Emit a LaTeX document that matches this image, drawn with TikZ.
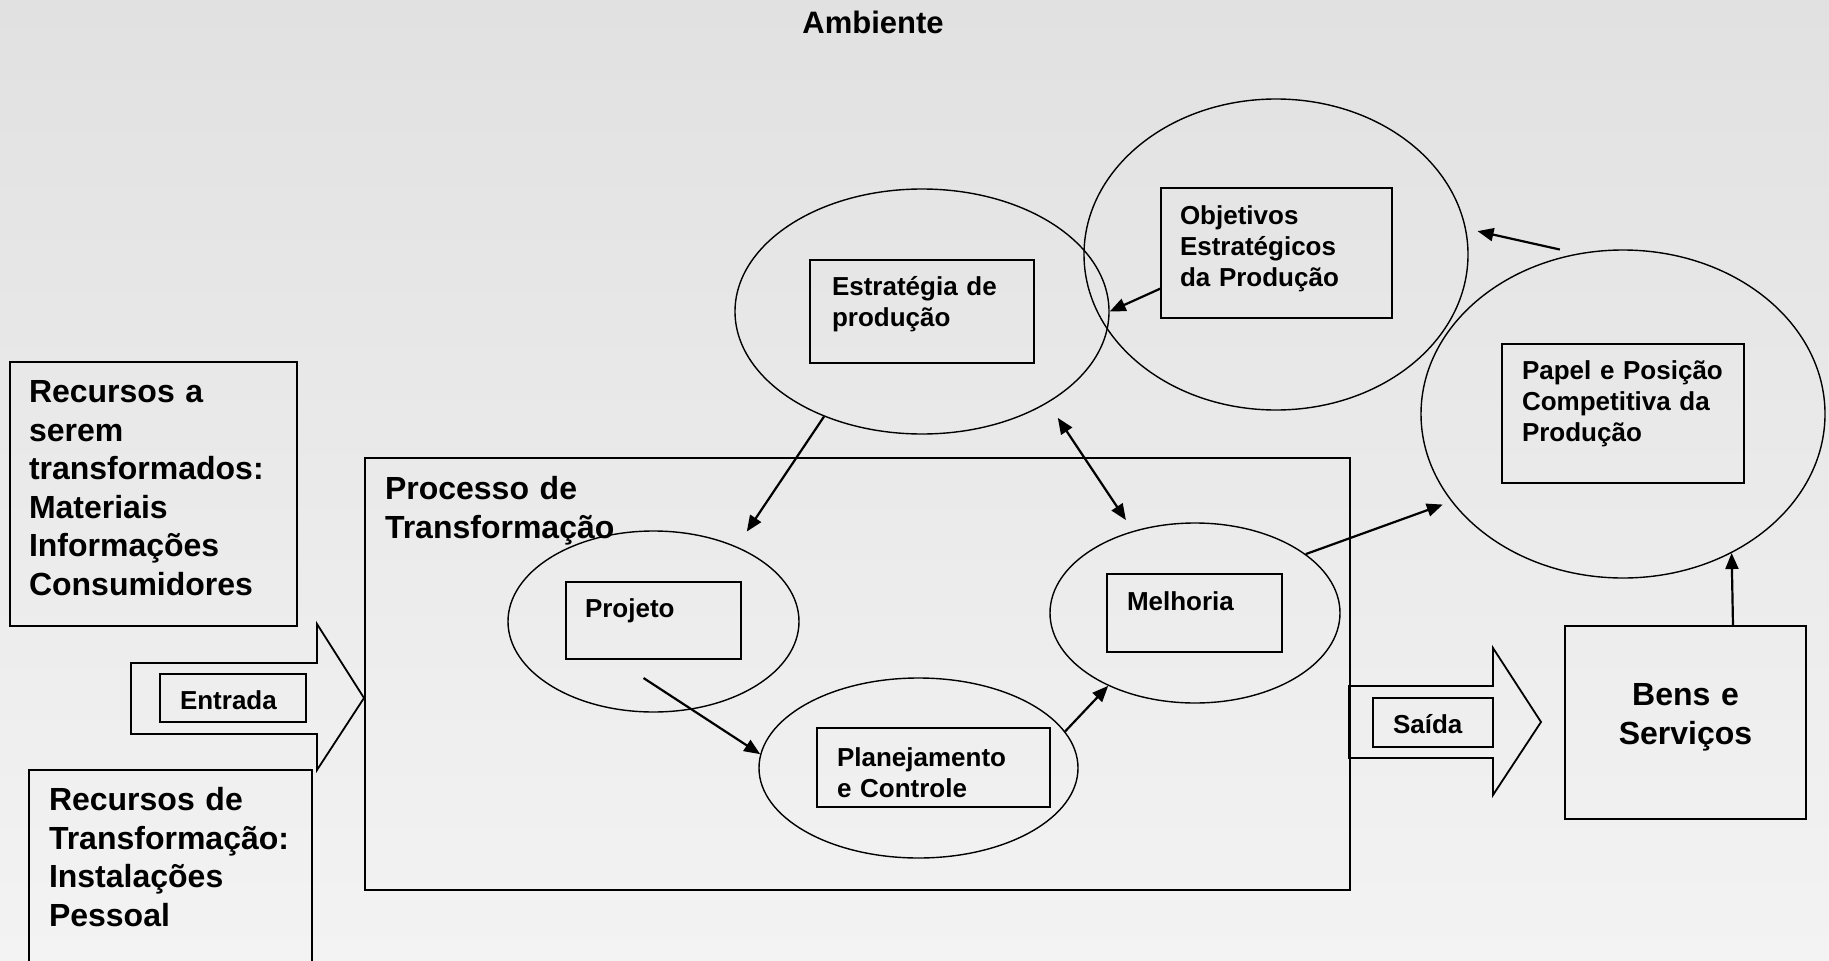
\documentclass[tikz,border=0pt]{standalone}
\usepackage{fontspec}
\setmainfont{Liberation Sans}
\usepackage{xcolor}
\usepackage{tikz}
\usetikzlibrary{shapes.geometric, arrows.meta, positioning, calc}
\definecolor{bgtop}{RGB}{225,225,225}
\definecolor{bgbottom}{RGB}{243,243,243}

\tikzset{
  ring/.style={draw, ellipse, line width=1.4pt, inner sep=0pt},
  panel/.style={draw, line width=1.8pt, anchor=north west, outer sep=0pt,
    inner ysep=0pt, align=left},
  arr/.style={-{Triangle[length=16pt,width=13pt]}, line width=2.2pt},
  arrboth/.style={{Triangle[length=16pt,width=13pt]}-{Triangle[length=16pt,width=13pt]}, line width=2.2pt},
  bigtxt/.style={font=\fontsize{32}{38.5}\selectfont\bfseries},
  midtxt/.style={font=\fontsize{26}{31}\selectfont\bfseries},
  blockarrow/.style={draw, line width=1.8pt, line join=miter}
}

\begin{document}
\begin{tikzpicture}[x=1pt, y=-1pt]
\useasboundingbox (0,0) rectangle (1829,961);
\fill[top color=bgtop, bottom color=bgbottom] (0,0) rectangle (1829,961);

% title
\node[font=\fontsize{31}{37}\selectfont\bfseries, anchor=base] (env) at (873,34) {Ambiente};

% left side: inputs
\node[panel, bigtxt, text width=249pt, inner xsep=19pt, text height=40.5pt, text depth=223.5pt]
  (recA) at (10,362) {Recursos a\\ serem\\ transformados:\\ Materiais\\ Informações\\ Consumidores};
\node[panel, bigtxt, text width=243pt, inner xsep=20pt, text height=40.5pt, text depth=200pt]
  (recB) at (29,770) {Recursos de\\ Transformação:\\ Instalações\\ Pessoal};

\draw[blockarrow] (131,663) -- (317,663) -- (317,624) -- (364,698) -- (317,770) -- (317,734) -- (131,734) -- cycle;
\node[panel, midtxt, text width=106pt, inner xsep=20pt, text height=35pt, text depth=13pt]
  (inBox) at (160,674) {Entrada};

% transformation process
\node[panel, bigtxt, text width=945pt, inner xsep=20pt, text height=41.5pt, text depth=390.5pt]
  (procBox) at (365,458) {Processo de\\ Transformação};

\node[ring, minimum width=291pt, minimum height=181pt] (projRing) at (653.5,621.5) {};
\node[ring, minimum width=319pt, minimum height=180pt] (planRing) at (918.5,768) {};
\node[ring, minimum width=290pt, minimum height=180pt] (melhRing) at (1195,613) {};

\node[panel, midtxt, text width=137pt, inner xsep=19pt, text height=35pt, text depth=42pt]
  (projBox) at (566,582) {Projeto};
\node[panel, midtxt, text width=193pt, inner xsep=20pt, text height=38.3pt, text depth=40.7pt]
  (planBox) at (817,728) {Planejamento\\ e Controle};
\node[panel, midtxt, text width=135pt, inner xsep=20pt, text height=36.3pt, text depth=41.7pt]
  (melhBox) at (1107,574) {Melhoria};

% output
\draw[blockarrow] (1349,686) -- (1493,686) -- (1493,648) -- (1541,722) -- (1493,795) -- (1493,758) -- (1349,758) -- cycle;
\node[panel, midtxt, text width=80pt, inner xsep=20pt, text height=35pt, text depth=14pt]
  (outBox) at (1373,698) {Saída};
\node[panel, bigtxt, align=center, text width=241pt, inner xsep=0pt, text height=79.7pt, text depth=113.3pt]
  (bensBox) at (1565,626) {Bens e\\ Serviços};

% strategy
\node[ring, minimum width=374pt, minimum height=245pt] (estrRing) at (922,311.5) {};
\node[ring, minimum width=384pt, minimum height=311pt] (objRing) at (1276,254.5) {};
\node[ring, minimum width=404pt, minimum height=328pt] (papelRing) at (1623,414) {};

\node[panel, midtxt, text width=180pt, inner xsep=22pt, text height=35pt, text depth=68pt]
  (estrBox) at (810,260) {Estratégia de\\ produção};
\node[panel, midtxt, text width=193pt, inner xsep=19pt, text height=36.3pt, text depth=93.7pt]
  (objBox) at (1161,188) {Objetivos\\ Estratégicos\\ da Produção};
\node[panel, midtxt, text width=202pt, inner xsep=20pt, text height=35pt, text depth=104pt]
  (papelBox) at (1502,344) {Papel e Posição\\ Competitiva da\\ Produção};

% connectors
\draw[arr, shorten >=18pt] (estrRing.227) -- (projRing.42);
\draw[arr] (objBox.197) -- (estrRing.east);
\draw[arrboth, shorten <=18pt, shorten >=13pt] (estrRing.324) -- (melhRing.127);
\draw[arr] ([shift={(-10,19)}]projBox.south) -- (planRing.175);
\draw[arr] (planRing.14) -- (melhRing.220);
\draw[arr, shorten >=9pt] (melhRing.28) -- (papelRing.207);
\draw[arr] ([yshift=8pt]papelRing.112) -- ([xshift=11pt]objRing.7);
\draw[arr] ([xshift=47.5pt]bensBox.north) -- (papelRing.308.6);
\end{tikzpicture}
\end{document}
